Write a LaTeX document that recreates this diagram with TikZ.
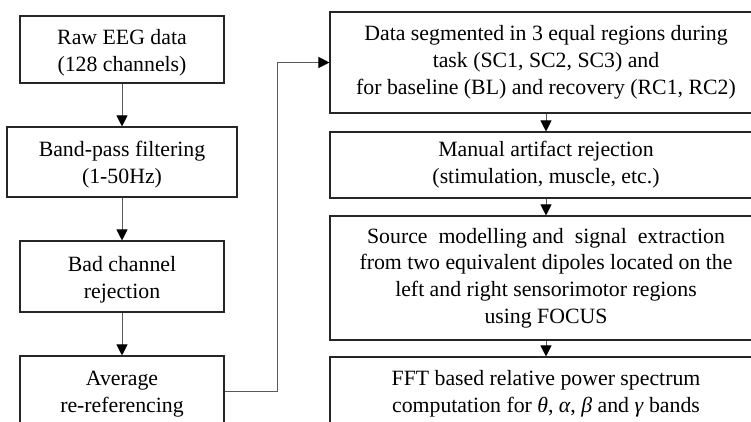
\documentclass[tikz,border=0pt]{standalone}
\usepackage{fontspec}
\setmainfont{Liberation Serif}
\usetikzlibrary{arrows.meta}
\newcommand{\lowstrut}{\rule{0pt}{21pt}}
\begin{document}
\begin{tikzpicture}[x=1pt,y=1pt,
  box/.style={draw=black!85, line width=1.1pt, inner sep=0pt, align=center,
    font=\fontsize{21.8}{26.8}\selectfont},
  conn/.style={draw=black!65, line width=1pt,
    -{Triangle[length=11pt,width=11pt,color=black]}}
]
\useasboundingbox (0,0) rectangle (751,-421);
\clip (0,0) rectangle (751,-421);
% left column
\node[box, minimum width=204, minimum height=67] (b1) at (122,-49.5)
  {\lowstrut Raw EEG data\\(128 channels)};
\node[box, minimum width=230, minimum height=70] (b2) at (122,-162)
  {\lowstrut Band-pass filtering\\(1-50Hz)};
\node[box, minimum width=204, minimum height=71] (b3) at (122,-276.5)
  {\lowstrut Bad channel\\rejection};
\node[box, minimum width=204, minimum height=70] (b4) at (122,-391)
  {\lowstrut Average\\re-referencing};
% right column
\node[box, minimum width=432, minimum height=101] (b5) at (546,-62.5)
  {Data segmented in 3 equal regions during\\task (SC1, SC2, SC3) and\\for baseline (BL) and recovery (RC1, RC2)};
\node[box, minimum width=432, minimum height=66] (b6) at (546,-165)
  {Manual artifact rejection\\(stimulation, muscle, etc.)};
\node[box, minimum width=432, minimum height=124] (b7) at (546,-278)
  {Source\ \ modelling and\ \ signal\ \ extraction\\from two equivalent dipoles located on the\\left and right sensorimotor regions\\using FOCUS};
\node[box, minimum width=432, minimum height=74] (b8) at (546,-394)
  {FFT based relative power spectrum\\computation for \textit{θ}, \textit{α}, \textit{β} and \textit{γ} bands};
% connectors
\draw[conn] (b1.south) -- (b2.north);
\draw[conn] (b2.south) -- (b3.north);
\draw[conn] (b3.south) -- (b4.north);
\coordinate (k) at (277,-391);
\draw[conn] (b4.east) -- (k) |- (b5.west);
\draw[conn] (b5.south) -- (b6.north);
\draw[conn] (b6.south) -- (b7.north);
\draw[conn] (b7.south) -- (b8.north);
\end{tikzpicture}
\end{document}
